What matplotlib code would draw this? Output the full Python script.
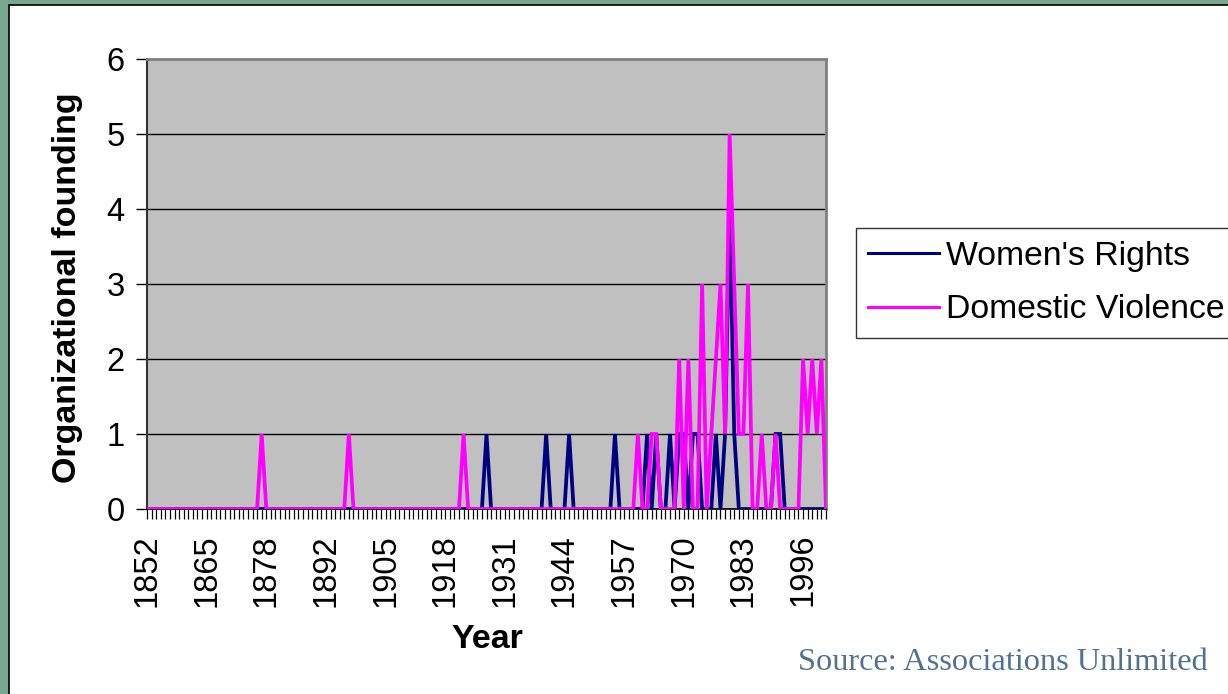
import matplotlib.pyplot as plt
from matplotlib.patches import Rectangle
from matplotlib.ticker import FixedLocator, MultipleLocator
import numpy as np

plt.rcParams['font.family'] = ['Liberation Sans', 'DejaVu Sans']

# categories (one year is missing from the source series between 1878 and 1892)
years = list(range(1852, 1879)) + list(range(1880, 2002))

# organizational foundings per year, 10 years per row
womens_rights = [
    0, 0, 0, 0, 0, 0, 0, 0, 0, 0,
    0, 0, 0, 0, 0, 0, 0, 0, 0, 0,
    0, 0, 0, 0, 0, 0, 0, 0, 0, 0,
    0, 0, 0, 0, 0, 0, 0, 0, 0, 0,
    0, 0, 0, 0, 0, 0, 0, 0, 0, 0,
    0, 0, 0, 0, 0, 0, 0, 0, 0, 0,
    0, 0, 0, 0, 0, 0, 0, 0, 0, 0,
    0, 0, 0, 0, 1, 0, 0, 0, 0, 0,
    0, 0, 0, 0, 0, 0, 0, 1, 0, 0,
    0, 0, 1, 0, 0, 0, 0, 0, 0, 0,
    0, 0, 1, 0, 0, 0, 0, 0, 0, 1,
    0, 1, 0, 0, 1, 0, 1, 1, 0, 1,
    1, 0, 0, 0, 1, 0, 1, 4, 1, 0,
    0, 0, 0, 0, 0, 0, 0, 1, 1, 0,
    0, 0, 0, 0, 0, 0, 0, 0, 0,
]

domestic_violence = [
    0, 0, 0, 0, 0, 0, 0, 0, 0, 0,
    0, 0, 0, 0, 0, 0, 0, 0, 0, 0,
    0, 0, 0, 0, 0, 1, 0, 0, 0, 0,
    0, 0, 0, 0, 0, 0, 0, 0, 0, 0,
    0, 0, 0, 0, 1, 0, 0, 0, 0, 0,
    0, 0, 0, 0, 0, 0, 0, 0, 0, 0,
    0, 0, 0, 0, 0, 0, 0, 0, 0, 1,
    0, 0, 0, 0, 0, 0, 0, 0, 0, 0,
    0, 0, 0, 0, 0, 0, 0, 0, 0, 0,
    0, 0, 0, 0, 0, 0, 0, 0, 0, 0,
    0, 0, 0, 0, 0, 0, 0, 1, 0, 0,
    1, 1, 0, 0, 0, 0, 2, 0, 2, 0,
    0, 3, 0, 1, 2, 3, 1, 5, 3, 1,
    1, 3, 0, 0, 1, 0, 0, 1, 0, 0,
    0, 0, 0, 2, 1, 2, 1, 2, 0,
]

W, H = 1228, 694
fig = plt.figure(figsize=(W / 100, H / 100), dpi=100, facecolor='#78A68F')

# white slide panel inside the green border (runs off the right and bottom edges)
fig.patches.append(Rectangle((9 / W, -0.05), 1.1, 1.05 - 5 / H, transform=fig.transFigure,
                             facecolor='white', edgecolor='black', linewidth=1.2, zorder=-5))

ax = fig.add_axes([147 / W, (H - 509) / H, 679 / W, 450 / H])
ax.set_facecolor('#C0C0C0')

x = np.arange(len(years))
ax.plot(x, womens_rights, color='#000080', linewidth=2.7, label="Women's Rights",
        solid_joinstyle='miter', zorder=3)
ax.plot(x, domestic_violence, color='#FF00FF', linewidth=2.7, label='Domestic Violence',
        solid_joinstyle='miter', zorder=4)

ax.set_xlim(0, len(years) - 1)
ax.set_ylim(0, 6)
ax.set_yticks(range(0, 7))
ax.yaxis.grid(True, color='black', linewidth=1.0)
ax.set_axisbelow(True)

major = list(range(0, len(years), 13))
ax.xaxis.set_major_locator(FixedLocator(major))
ax.set_xticklabels([str(years[i]) for i in major], rotation=90)
ax.xaxis.set_minor_locator(MultipleLocator(1))

ax.tick_params(axis='both', labelsize=23.5, direction='out', color='black')
ax.tick_params(axis='x', which='both', length=7, width=0.9, pad=11)
ax.tick_params(axis='y', length=8, width=1.0, pad=8)

for side in ['top', 'right']:
    ax.spines[side].set_color('#808080')
    ax.spines[side].set_linewidth(2)
ax.spines['left'].set_color('#333333')
ax.spines['left'].set_linewidth(1.5)
ax.spines['bottom'].set_color('black')
ax.spines['bottom'].set_linewidth(1.2)

fig.text(68 / W, 1 - 288 / H, 'Organizational founding', rotation=90, fontsize=24.5,
         fontweight='bold', ha='center', va='center')
fig.text(487 / W, 1 - 640 / H, 'Year', fontsize=24.5, fontweight='bold',
         ha='center', va='center')

leg = fig.legend(loc='center left', bbox_to_anchor=(856 / W, 1 - 283 / H), fontsize=24.3,
                 frameon=True, fancybox=False, edgecolor='black', handlelength=2.1,
                 handletextpad=0.2, borderpad=0.36, labelspacing=0.68, borderaxespad=0)
leg.get_frame().set_linewidth(1.0)
for line in leg.get_lines():
    line.set_linewidth(2.2)

fig.text(1003 / W, 1 - 662 / H, 'Source: Associations Unlimited', fontsize=23.3,
         family=['Liberation Serif', 'DejaVu Serif'], color='#52708F',
         ha='center', va='center')

fig.savefig('out.png', dpi=100, facecolor=fig.get_facecolor())
